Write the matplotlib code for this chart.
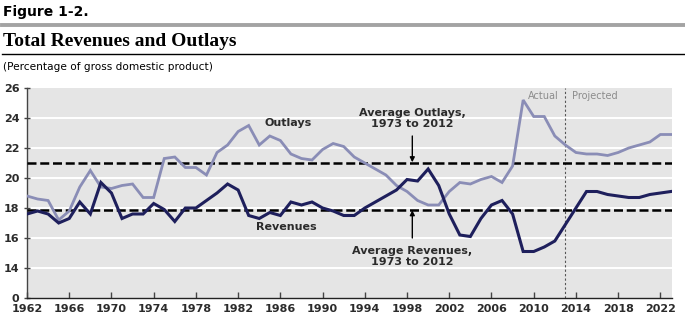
import numpy as np
import matplotlib
matplotlib.use("Agg")
import matplotlib.pyplot as plt

years = np.arange(1962, 2024)

# percent of GDP, fiscal years (2013 onward projected)
revenues = [17.6, 17.8, 17.6, 17.0, 17.3, 18.4, 17.6, 19.7, 19.0, 17.3,
            17.6, 17.6, 18.3, 17.9, 17.1, 18.0, 18.0, 18.5, 19.0, 19.6,
            19.2, 17.5, 17.3, 17.7, 17.5, 18.4, 18.2, 18.4, 18.0, 17.8,
            17.5, 17.5, 18.0, 18.4, 18.8, 19.2, 19.9, 19.8, 20.6, 19.5,
            17.6, 16.2, 16.1, 17.3, 18.2, 18.5, 17.6, 15.1, 15.1, 15.4,
            15.8, 16.9, 18.0, 19.1, 19.1, 18.9, 18.8, 18.7, 18.7, 18.9,
            19.0, 19.1]
outlays = [18.8, 18.6, 18.5, 17.2, 17.8, 19.4, 20.5, 19.4, 19.3, 19.5,
           19.6, 18.7, 18.7, 21.3, 21.4, 20.7, 20.7, 20.2, 21.7, 22.2,
           23.1, 23.5, 22.2, 22.8, 22.5, 21.6, 21.3, 21.2, 21.9, 22.3,
           22.1, 21.4, 21.0, 20.6, 20.2, 19.5, 19.1, 18.5, 18.2, 18.2,
           19.1, 19.7, 19.6, 19.9, 20.1, 19.7, 20.8, 25.2, 24.1, 24.1,
           22.8, 22.2, 21.7, 21.6, 21.6, 21.5, 21.7, 22.0, 22.2, 22.4,
           22.9, 22.9]

avg_outlays = 21.0
avg_revenues = 17.9
split_year = 2013

yticks = [12, 14, 16, 18, 20, 22, 24, 26]
ytick_labels = ["0", "14", "16", "18", "20", "22", "24", "26"]
xticks = list(range(1962, 2023, 4))

NAVY = "#1e1f5c"
SLATE = "#8a8db6"
TXT = "#2b2b2b"

fig = plt.figure(figsize=(6.85, 3.31), dpi=100)

# header block
fig.text(0.004, 0.963, "Figure 1-2.", fontsize=10, fontweight="heavy",
         family="DejaVu Sans", va="center", ha="left")
fig.add_artist(plt.Line2D([0.003, 1.0], [0.925, 0.925], color="#a3a3a3", lw=2.8))
fig.text(0.004, 0.876, "Total Revenues and Outlays", fontsize=14, fontweight="bold",
         family="Liberation Serif", va="center", ha="left")
fig.add_artist(plt.Line2D([0.003, 1.0], [0.836, 0.836], color="black", lw=1.0))
fig.text(0.004, 0.798, "(Percentage of gross domestic product)", fontsize=7.6,
         family="DejaVu Sans", va="center", ha="left")

ax = fig.add_axes([27 / 685, 1 - 298 / 331, 645 / 685, 210 / 331])
ax.set_facecolor("#e5e5e5")
ax.set_xlim(1962, 2023.1)
ax.set_ylim(12, 26)

for y in yticks[1:-1]:
    ax.axhline(y, color="white", lw=1.4, zorder=1)

ax.axvline(split_year, color="#555555", lw=0.8, ls=(0, (2, 2)), zorder=2)
ax.text(split_year - 0.6, 25.45, "Actual", color="#8c8c8c", fontsize=7,
        ha="right", va="center")
ax.text(split_year + 0.6, 25.45, "Projected", color="#8c8c8c", fontsize=7,
        ha="left", va="center")

dash = (0, (3.6, 1.5))
ax.axhline(avg_outlays, color="black", lw=1.8, ls=dash, zorder=3)
ax.axhline(avg_revenues, color="black", lw=1.8, ls=dash, zorder=3)

ax.plot(years, outlays, color=SLATE, lw=2.0, zorder=4, solid_joinstyle="miter")
ax.plot(years, revenues, color=NAVY, lw=2.2, zorder=5, solid_joinstyle="miter")

lab = dict(fontsize=8, fontweight="bold", color=TXT, ha="center", va="center",
           family="DejaVu Sans")
ax.text(1986.7, 23.7, "Outlays", **lab)
ax.text(1986.6, 16.7, "Revenues", **lab)
ax.text(1998.5, 23.95, "Average Outlays,\n1973 to 2012", linespacing=1.1, **lab)
ax.text(1998.5, 14.75, "Average Revenues,\n1973 to 2012", linespacing=1.1, **lab)
ax.annotate("", xy=(1998.5, avg_outlays + 0.05), xytext=(1998.5, 22.8),
            arrowprops=dict(arrowstyle="-|>", color="black", lw=1.0,
                            mutation_scale=7, shrinkA=0, shrinkB=0), zorder=6)
ax.annotate("", xy=(1998.5, avg_revenues - 0.05), xytext=(1998.5, 16.0),
            arrowprops=dict(arrowstyle="-|>", color="black", lw=1.0,
                            mutation_scale=7, shrinkA=0, shrinkB=0), zorder=6)

for s in ("top", "right"):
    ax.spines[s].set_visible(False)
ax.spines["left"].set_color("#444444")
ax.spines["bottom"].set_color("#222222")
ax.spines["left"].set_linewidth(1.0)
ax.spines["bottom"].set_linewidth(1.0)

ax.set_yticks(yticks)
ax.set_yticklabels(ytick_labels)
ax.set_xticks(xticks)
ax.set_xticklabels([str(x) for x in xticks])
ax.tick_params(axis="y", direction="inout", length=5, width=1, color="#444444",
               pad=3, labelsize=8)
ax.tick_params(axis="x", direction="in", length=4, width=1, color="#444444",
               pad=4, labelsize=8)
for t in ax.get_xticklabels() + ax.get_yticklabels():
    t.set_fontweight("bold")
    t.set_color(TXT)

fig.savefig("out.png", dpi=100)
